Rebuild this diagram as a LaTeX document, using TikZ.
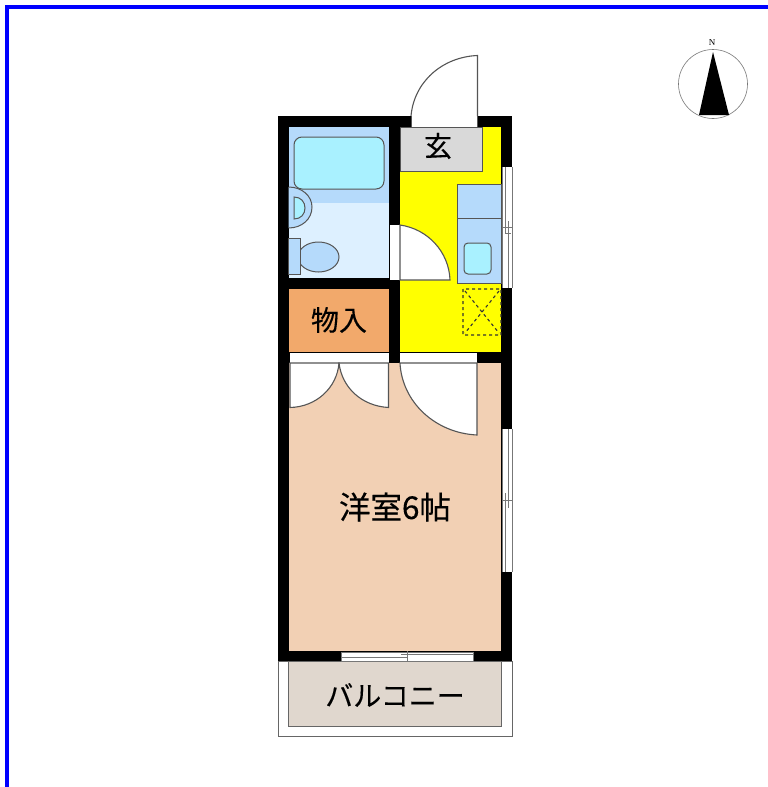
\documentclass[tikz,border=0pt]{standalone}
\usepackage{fontspec}
\setmainfont{Liberation Serif}
\newfontfamily\cjk[FakeBold=0.25]{Noto Sans CJK JP}
\definecolor{bathblue}{HTML}{B5DAFB}
\definecolor{paleblue}{HTML}{DDF0FF}
\definecolor{aqua}{HTML}{A9F1FF}
\definecolor{closet}{HTML}{F2A96B}
\definecolor{room}{HTML}{F2D0B4}
\definecolor{balc}{HTML}{E0D7CE}
\definecolor{entry}{HTML}{D9D9D9}
\definecolor{yel}{HTML}{FFFF00}
\definecolor{line}{HTML}{555555}
\tikzset{
  label text/.style={font=\cjk\fontsize{28}{30}\selectfont,text=black,inner sep=0pt},
  fixture/.style={draw=line,line width=1pt},
  leaf/.style={draw=line,fill=white,line width=1.1pt},
  wall/.style={fill=black},
  opening/.style={fill=white},
  sash/.style={draw=line!80,line width=1pt}
}
\begin{document}
\begin{tikzpicture}[x=1pt,y=-1pt]
\useasboundingbox (0,0) rectangle (768,787);
\fill[white] (0,0) rectangle (768,787);
% page frame
\fill[blue] (5,5) rectangle (768,9);
\fill[blue] (5,5) rectangle (9,787);
% north mark
\draw[line!80,line width=0.6pt] (713,84) circle (34.5);
\fill[black] (713,52) -- (729,115) -- (699,115) -- cycle;
\node[font=\fontsize{9}{10}\selectfont,inner sep=0pt] (north) at (712,43) {N};
% balcony
\draw[line!90,line width=0.9pt] (278,661) rectangle (512,736);
\fill[balc,draw=line!90,line width=0.8pt] (288.5,661) rectangle (501,726);
% floors
\fill[yel] (400,127) rectangle (501,352);
\fill[room] (288,363) rectangle (501,651);
\fill[bathblue] (288,127) rectangle (389,203);
\fill[paleblue] (288,203) rectangle (389,278);
\fill[closet] (288,288) rectangle (389,352);
\fill[entry,draw=line,line width=0.6pt] (400,127) rectangle (482,171);
% walls
\fill[wall] (278,116) rectangle (512,127);
\fill[wall] (278,116) rectangle (288.5,661);
\fill[wall] (501,116) rectangle (512,661);
\fill[wall] (278,651) rectangle (512,661);
\fill[wall] (389,127) rectangle (400,363);
\fill[wall] (278,277.5) rectangle (400,288.5);
\fill[wall] (278,352) rectangle (512,363);
% bath fixtures
\draw[fixture,fill=aqua,rounded corners=8pt] (294,137) rectangle (384,189);
\draw[fixture,fill=bathblue] (288.5,187) .. controls (302,187) and (312,196) .. (312,207) .. controls (312,219) and (302,228) .. (288.5,228);
\draw[fixture,fill=aqua] (294,197) .. controls (301,197) and (305,202) .. (305,208) .. controls (305,214) and (301,219) .. (294,219) -- cycle;
\draw[fixture,fill=bathblue] (318.5,257) ellipse (20.5 and 15);
\draw[fixture,fill=bathblue] (288.5,238) rectangle (300,274);
% kitchen
\draw[fixture,fill=bathblue] (457,184) rectangle (501,283);
\draw[fixture] (457,218) -- (501,218);
\draw[fixture,fill=aqua,rounded corners=4pt] (464,243) rectangle (491,274);
\draw[black!80,line width=1.1pt,dash pattern=on 3pt off 3pt] (463,289) rectangle (501,335) (465,291) -- (499,333) (499,291) -- (465,333);
% entrance door
\fill[opening] (411,116) rectangle (477,127);
\path[leaf] (411,116) .. controls (414,82) and (442,57) .. (477.5,55.5) -- (477.5,116);
\draw[line,line width=0.7pt] (411,116) -- (411,127) (477.5,116) -- (477.5,127);
% bath door
\fill[opening] (390,225) rectangle (400,280);
\path[leaf] (400,225) .. controls (428,229) and (449,252) .. (450,280) -- (400,280) -- cycle;
% closet doors
\fill[opening] (290,353) rectangle (388.5,363);
\fill[opening] (400,353) rectangle (477,363);
\draw[line,line width=0.6pt] (290,363) -- (388.5,363) (400,363) -- (477,363);
\path[leaf] (290,363) -- (339,363) .. controls (337,388) and (316,407) .. (290,407.5) -- cycle;
\path[leaf] (388.5,363) -- (339,363) .. controls (342,388) and (362,406) .. (388.5,407.5) -- cycle;
% room door
\path[leaf] (400,363) -- (477,363) -- (477,435) .. controls (435,433) and (402,402) .. (400,363) -- cycle;
% right windows
\fill[opening] (502,167) rectangle (512,288);
\draw[sash] (502,167) -- (502,288) (512,167) -- (512,288) (505.5,167) -- (505.5,233) (508.5,221) -- (508.5,288) (503,227) -- (512,227) (505,233) -- (511,233);
\fill[opening] (502,429) rectangle (512,572);
\draw[sash] (502,429) -- (502,572) (512,429) -- (512,572) (508.5,429) -- (508.5,508) (505.5,493) -- (505.5,572) (502,500.5) -- (512,500.5);
% bottom window
\fill[opening] (341,652) rectangle (473,661);
\draw[sash] (341,652) rectangle (473,661) (341,657.5) -- (407,657.5) (401,654.5) -- (473,654.5) (407,651) -- (407,661);
% labels
\node[label text] (genkan) at (438,146) {玄};
\node[label text] (closetlabel) at (339,320) {物入};
\node[label text,font=\cjk\fontsize{31.5}{33}\selectfont] (roomlabel) at (395,507) {洋室6帖};
\node[label text] (balcony) at (395,695) {バルコニー};
\end{tikzpicture}
\end{document}
